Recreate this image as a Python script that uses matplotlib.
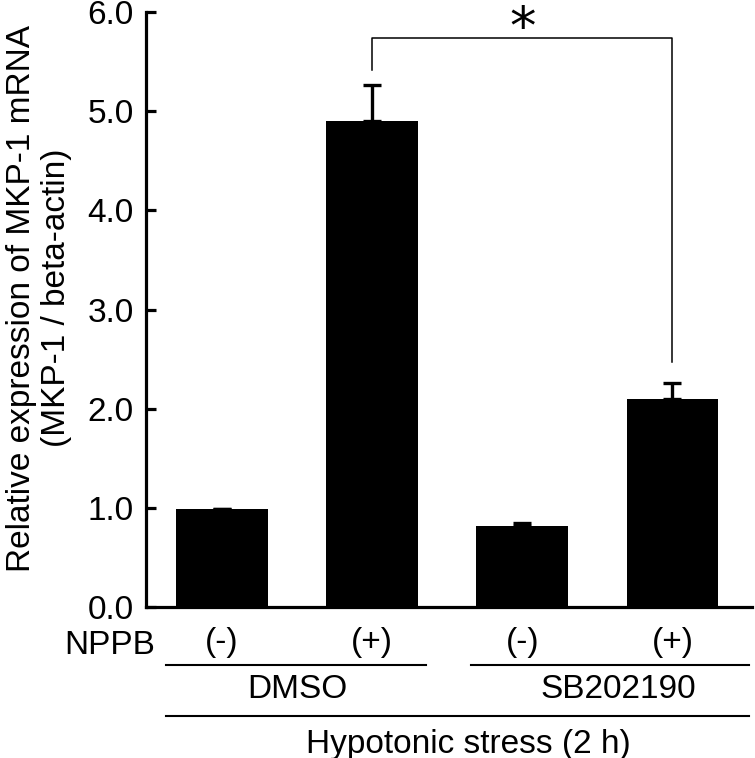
import matplotlib
matplotlib.use('Agg')
import matplotlib.pyplot as plt
import matplotlib.transforms as mtransforms

plt.rcParams['font.family'] = ['Liberation Sans', 'DejaVu Sans']

# data
conditions = ['DMSO NPPB-', 'DMSO NPPB+', 'SB202190 NPPB-', 'SB202190 NPPB+']
nppb_labels = ['(-)', '(+)', '(-)', '(+)']
values = [0.99, 4.90, 0.82, 2.10]
errors = [0.0, 0.36, 0.03, 0.16]
yticks = [0.0, 1.0, 2.0, 3.0, 4.0, 5.0, 6.0]

FS = 24
W, H = 755, 758
fig = plt.figure(figsize=(W / 100, H / 100), dpi=100)
ax = fig.add_axes([146 / W, (H - 607) / H, (752 - 146) / W, 595 / H])

x = list(range(len(values)))
ax.bar(x, values, width=0.61, color='black', edgecolor='black', linewidth=0)
ax.errorbar(x, values, yerr=[[0] * len(errors), errors], fmt='none',
            ecolor='black', elinewidth=2.4, capsize=6.5, capthick=2.4)

ax.set_xlim(-0.506, 3.53)
ax.set_ylim(0, 6)
ax.set_yticks(yticks)
ax.set_yticklabels(['%.1f' % t for t in yticks])
ax.set_xticks([])
for s in ['top', 'right']:
    ax.spines[s].set_visible(False)
for s in ['left', 'bottom']:
    ax.spines[s].set_linewidth(2.3)
ax.tick_params(axis='y', direction='in', length=7, width=2.3, pad=9,
               labelsize=FS)


def fy(ypix):
    return (H - ypix) / H


# two-line y axis title
fig.text(22 / W, fy(298), 'Relative expression of MKP-1 mRNA', rotation=90,
         ha='center', va='center', fontsize=FS)
fig.text(57 / W, fy(298), '(MKP-1 / beta-actin)', rotation=90,
         ha='center', va='center', fontsize=FS)

# significance bracket
ax.plot([1, 1, 3, 3], [5.42, 5.74, 5.74, 2.47], color='black', lw=1.1,
        clip_on=False)
ax.text(2, 5.68, '*', ha='center', va='baseline', fontsize=38,
        family='DejaVu Sans', clip_on=False)

# category labels below the axis
tr = mtransforms.blended_transform_factory(ax.transData, fig.transFigure)

ax.text(-0.745, fy(645), 'NPPB', transform=tr, ha='center', va='center',
        fontsize=FS)
for xi, lab in zip(x, nppb_labels):
    ax.text(xi, fy(643), lab, transform=tr, ha='center', va='center',
            fontsize=FS)

ax.plot([-0.37, 1.36], [fy(665)] * 2, transform=tr, color='black', lw=1.5,
        clip_on=False)
ax.plot([1.66, 3.51], [fy(665)] * 2, transform=tr, color='black', lw=1.5,
        clip_on=False)
ax.text(0.5, fy(689), 'DMSO', transform=tr, ha='center', va='center',
        fontsize=FS)
ax.text(2.64, fy(689), 'SB202190', transform=tr, ha='center', va='center',
        fontsize=FS)

ax.plot([-0.37, 3.51], [fy(716)] * 2, transform=tr, color='black', lw=1.5,
        clip_on=False)
ax.text(1.64, fy(744), 'Hypotonic stress (2 h)', transform=tr, ha='center',
        va='center', fontsize=FS)

fig.savefig('out.png', dpi=100, facecolor='white')
